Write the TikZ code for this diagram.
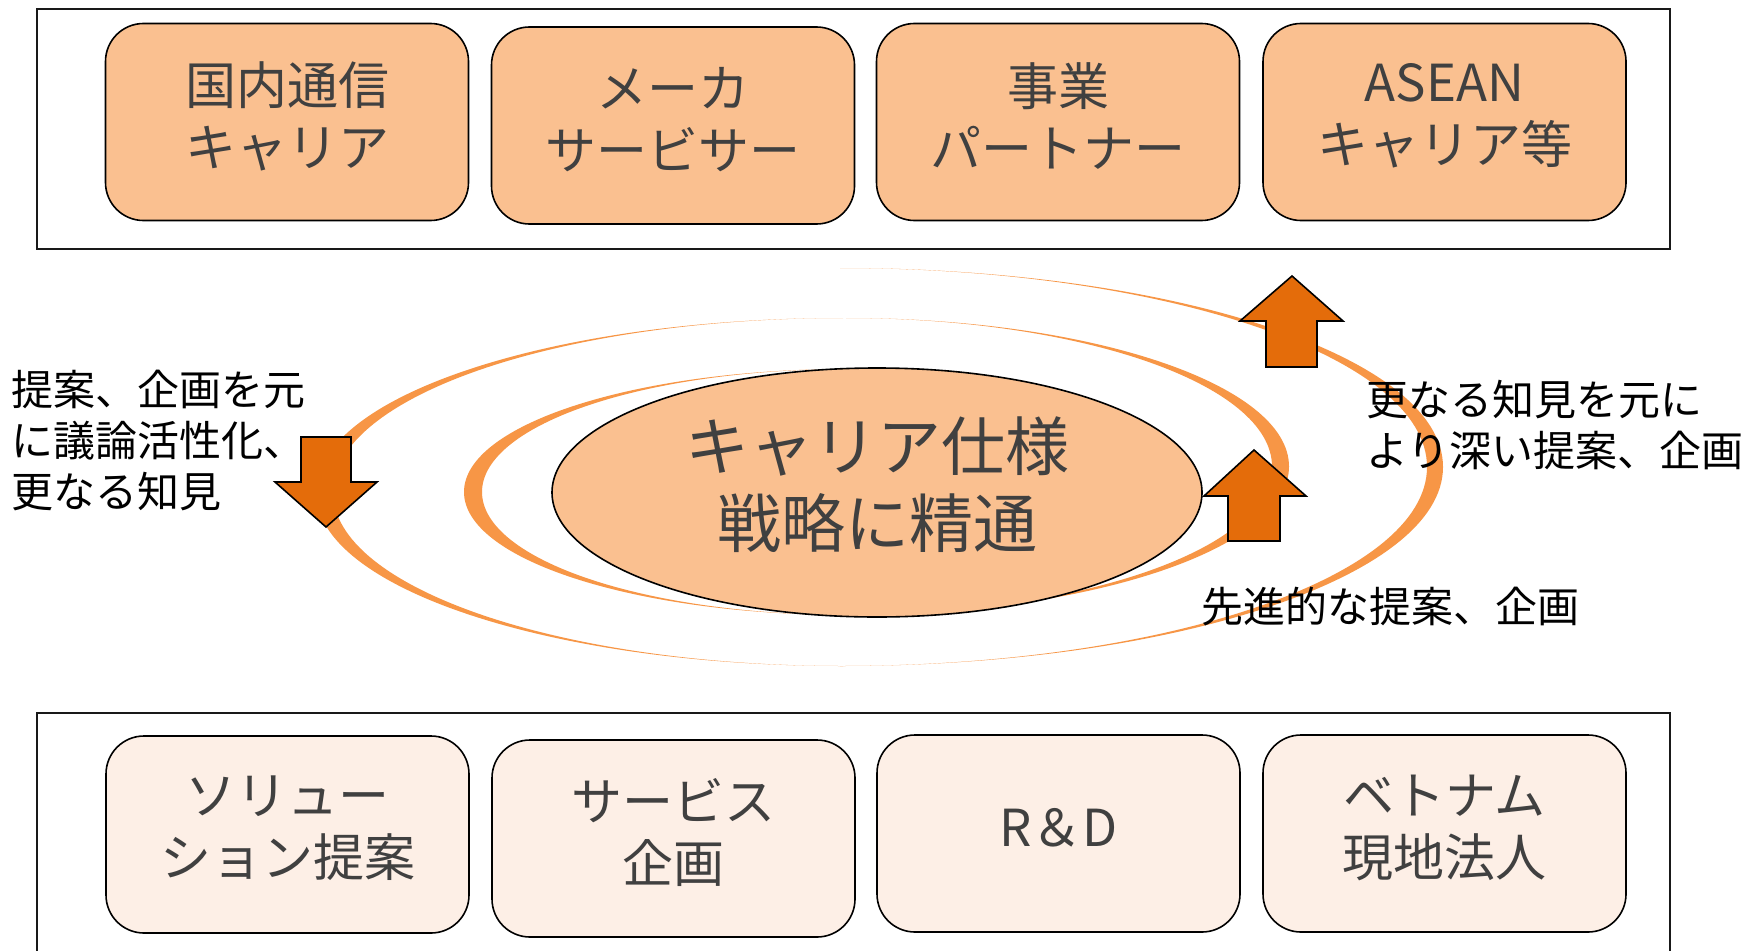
\documentclass[tikz,border=0pt]{standalone}
\usepackage{fontspec}
\setmainfont{Noto Sans CJK JP}
\usetikzlibrary{shapes.geometric}
\definecolor{boxtop}{HTML}{FAC090}
\definecolor{boxbot}{HTML}{FDEFE6}
\definecolor{ringc}{HTML}{F79646}
\definecolor{arrowc}{HTML}{E46C0A}
\definecolor{txtgray}{HTML}{404040}
% half crescent of the spiral: cx, cy, ry, rx outer, rx inner, side (+1 right, -1 left)
\newcommand\ringhalf[6]{%
  \fill[ringc] (#1,{#2-#3})
    .. controls ({#1+#6*0.5523*#4},{#2-#3}) and ({#1+#6*#4},{#2-0.5523*#3}) .. ({#1+#6*#4},#2)
    .. controls ({#1+#6*#4},{#2+0.5523*#3}) and ({#1+#6*0.5523*#4},{#2+#3}) .. (#1,{#2+#3})
    .. controls ({#1+#6*0.5523*#5},{#2+#3}) and ({#1+#6*#5},{#2+0.5523*#3}) .. ({#1+#6*#5},#2)
    .. controls ({#1+#6*#5},{#2-0.5523*#3}) and ({#1+#6*0.5523*#5},{#2-#3}) .. cycle;}
\begin{document}
\begin{tikzpicture}[x=1pt,y=-1pt,
  outerframe/.style={draw=black!90, line width=1.6pt, inner sep=0pt},
  topcard/.style={draw=black, line width=1.6pt, fill=boxtop, rounded corners=38pt,
    minimum width=363pt, minimum height=197pt, inner sep=0pt},
  botcard/.style={topcard, fill=boxbot},
  cardtext/.style={text=txtgray, align=center, font=\fontsize{51}{62}\selectfont, inner sep=0pt},
  coretext/.style={text=txtgray, align=center, font=\fontsize{64}{77}\selectfont, inner sep=0pt},
  sidetext/.style={text=black, align=left, font=\fontsize{42}{51}\selectfont, inner sep=0pt},
  blockarrow/.style={draw=black, line width=1.6pt, fill=arrowc, line join=miter},
]
\useasboundingbox (0,0) rectangle (1752,950);
\fill[white] (0,0) rectangle (1752,950);

% frames
\node[outerframe, minimum width=1633pt, minimum height=240pt] (topframe) at (853.5,129) {};
\node[outerframe, minimum width=1633pt, minimum height=270pt] (botframe) at (853.5,848) {};

% top cards
\node[topcard] (t1) at (287,122) {};
\node[topcard] (t2) at (673,125.5) {};
\node[topcard] (t3) at (1058,122) {};
\node[topcard] (t4) at (1444.5,122) {};
\node[cardtext] (t1t) at ([yshift=6pt]t1.center) {国内通信\\キャリア};
\node[cardtext] (t2t) at ([yshift=6pt]t2.center) {メーカ\\サービサー};
\node[cardtext] (t3t) at ([yshift=6pt]t3.center) {事業\\パートナー};
\node[cardtext] (t4t) at ([yshift=6pt]t4.center) {ASEAN\\キャリア等};

% bottom cards
\node[botcard] (b1) at (287.5,834.5) {};
\node[botcard] (b2) at (673.5,838.5) {};
\node[botcard] (b3) at (1058.5,833.5) {};
\node[botcard] (b4) at (1444.5,833.5) {};
\node[cardtext] (b1t) at ([yshift=6pt]b1.center) {ソリュー\\ション提案};
\node[cardtext] (b2t) at ([yshift=6pt]b2.center) {サービス\\企画};
\node[cardtext] (b3t) at ([yshift=6pt]b3.center) {R＆D};
\node[cardtext] (b4t) at ([yshift=6pt]b4.center) {ベトナム\\現地法人};

% spiral
\ringhalf{840}{467}{199}{603}{587}{1}
\ringhalf{843}{492}{174}{527}{510}{-1}
\ringhalf{846}{466.5}{148.5}{443}{426}{1}
\ringhalf{848}{492}{123}{384}{366}{-1}

% core ellipse
\node[ellipse, draw=black, line width=1.6pt, fill=boxtop, minimum width=650pt,
  minimum height=249pt, inner sep=0pt] (core) at (877,492.5) {};
\node[coretext] (coret) at ([yshift=8pt]core.center) {キャリア仕様\\戦略に精通};

% block arrows
\draw[blockarrow] (301,437) -- (351,437) -- (351,482) -- (377,482) -- (326,527)
  -- (275,482) -- (301,482) -- cycle;
\draw[blockarrow] (1266,367) -- (1317,367) -- (1317,321) -- (1343,321) -- (1292,276)
  -- (1240,321) -- (1266,321) -- cycle;
\draw[blockarrow] (1228,541) -- (1280,541) -- (1280,496) -- (1306,496) -- (1254,450)
  -- (1204,496) -- (1228,496) -- cycle;

% labels
\node[sidetext, anchor=west] (lefttext) at (11,440) {提案、企画を元\\に議論活性化、\\更なる知見};
\node[sidetext, anchor=west] (righttext) at (1366,425) {更なる知見を元に\\より深い提案、企画};
\node[sidetext, anchor=west] (advtext) at (1201,607) {先進的な提案、企画};
\end{tikzpicture}
\end{document}
